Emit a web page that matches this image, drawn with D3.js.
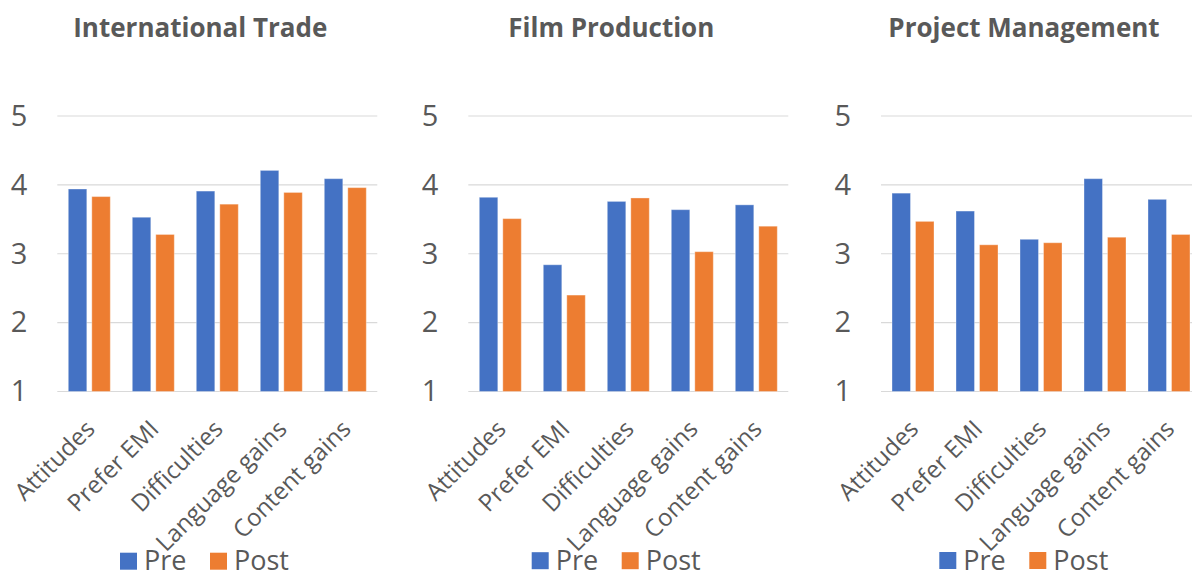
<!DOCTYPE html>
<html><head><meta charset="utf-8">
<script src="https://cdn.jsdelivr.net/npm/d3@7"></script>
<style>
html,body{margin:0;padding:0;background:#fff;overflow:hidden}
text{font-family:"Open Sans",sans-serif;fill:#595959}
</style></head>
<body>
<svg id="c" width="1192" height="577"></svg>
<script>
// ---- data ----
const categories = ["Attitudes","Prefer EMI","Difficulties","Language gains","Content gains"];
const seriesNames = ["Pre","Post"];
const panelTitles = ["International Trade","Film Production","Project Management"];
const preTrade   = [3.94,3.53,3.91,4.21,4.09];
const postTrade  = [3.83,3.28,3.72,3.89,3.96];
const preFilm    = [3.82,2.84,3.76,3.64,3.71];
const postFilm   = [3.51,2.40,3.81,3.03,3.40];
const preProject = [3.88,3.62,3.21,4.09,3.79];
const postProject= [3.47,3.13,3.16,3.24,3.28];
const yTicks = [1,2,3,4,5];

// ---- layout ----
const colors = {Pre:"#4472C4", Post:"#ED7D31"};
const plotX0 = [57.3, 468.3, 881];
const plotW = 320;
const yTop = 116, yBot = 391.5;
const legendDX = [62.7, 63.4, 58.3];
const legendY = [552.7, 552.2, 552];

const panels = [
  {title: panelTitles[0], pre: preTrade, post: postTrade},
  {title: panelTitles[1], pre: preFilm, post: postFilm},
  {title: panelTitles[2], pre: preProject, post: postProject}
];

const svg = d3.select("#c");
const y = d3.scaleLinear().domain([1,5]).range([yBot, yTop]);

panels.forEach((p, i) => {
  const x0 = plotX0[i];
  const g = svg.append("g");
  const x = d3.scaleBand().domain(categories).range([x0, x0 + plotW]).padding(0);
  const xs = d3.scaleBand().domain(seriesNames).range([0, x.bandwidth()])
    .paddingInner(0.213).paddingOuter(0.468);

  // gridlines
  g.append("g").selectAll("line").data(yTicks).join("line")
    .attr("x1", x0).attr("x2", x0 + plotW)
    .attr("y1", d => y(d)).attr("y2", d => y(d))
    .attr("stroke", "#D9D9D9").attr("stroke-width", 1.2);

  // y axis labels
  const ya = g.append("g").attr("transform", `translate(${x0},0)`)
    .call(d3.axisLeft(y).tickValues(yTicks).tickSize(0).tickPadding(30).tickFormat(d3.format("d")));
  ya.select(".domain").remove();
  ya.selectAll("text").style("font-family", '"Open Sans",sans-serif')
    .style("font-size", "29px").attr("fill", "#595959");

  // bars
  const rows = categories.map((c, k) => ({c, vals: [{s:"Pre", v:p.pre[k]}, {s:"Post", v:p.post[k]}]}));
  g.append("g").selectAll("g").data(rows).join("g")
    .attr("transform", d => `translate(${x(d.c)},0)`)
    .selectAll("rect").data(d => d.vals).join("rect")
    .attr("x", d => xs(d.s)).attr("width", xs.bandwidth())
    .attr("y", d => y(d.v)).attr("height", d => y(1) - y(d.v))
    .attr("fill", d => colors[d.s])
    .attr("stroke", "#fff").attr("stroke-opacity", 0.35).attr("stroke-width", 1);

  // category labels
  g.append("g").selectAll("text").data(categories).join("text")
    .attr("transform", d => `translate(${x(d) + x.bandwidth()/2 + 1},424.5) rotate(-45)`)
    .attr("text-anchor", "end").attr("dy", "0.35em")
    .style("font-size", "24px").text(d => d);

  // title
  g.append("text").attr("x", x0 + plotW/2 - 17).attr("y", 37)
    .attr("text-anchor", "middle").style("font-size", "26px").style("font-weight", "bold")
    .text(p.title);

  // legend
  const lx = x0 + legendDX[i], ly = legendY[i];
  const lg = g.append("g").selectAll("g").data(seriesNames).join("g")
    .attr("transform", (d, k) => `translate(${lx + k*90},${ly})`);
  lg.append("rect").attr("width", 17).attr("height", 17).attr("fill", d => colors[d]);
  lg.append("text").attr("x", 24).attr("y", 17.5).style("font-size", "27px").text(d => d);
});
</script>
</body></html>
